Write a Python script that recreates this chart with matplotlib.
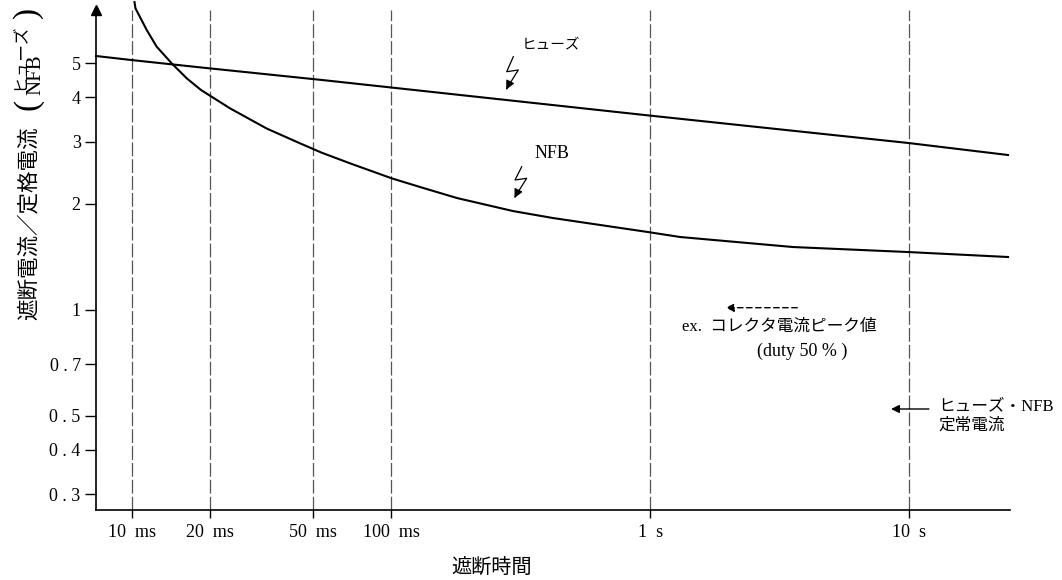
import matplotlib
matplotlib.use("Agg")
import matplotlib.pyplot as plt
from matplotlib.ticker import FixedLocator, NullLocator

plt.rcParams['font.family'] = ['Liberation Serif', 'Noto Sans CJK JP']

# ---- data (time in seconds, ratio = breaking current / rated current) ----
fuse_time = [0.007243, 0.009885, 0.018753, 0.054034, 0.10161, 0.99026, 9.912, 24.12]
fuse_ratio = [5.245, 5.110, 4.860, 4.484, 4.264, 3.556, 2.972, 2.747]

nfb_time = [0.01020, 0.010289, 0.011365, 0.012423, 0.014197, 0.016222, 0.018423,
            0.023837, 0.033049, 0.044444, 0.053891, 0.069320, 0.10045, 0.12923,
            0.17952, 0.29542, 0.42165, 0.98150, 1.3047, 3.5640, 9.824, 24.12]
nfb_ratio = [7.46, 7.16, 6.22, 5.575, 5.00, 4.535, 4.201,
             3.727, 3.266, 2.965, 2.789, 2.602, 2.359, 2.229,
             2.074, 1.905, 1.820, 1.661, 1.608, 1.506, 1.458, 1.411]

x_ticks = [0.01, 0.02, 0.05, 0.1, 1.0, 10.0]
x_tick_labels = ["10  ms", "20  ms", "50  ms", "100  ms", "1  s", "10  s"]
y_ticks = [5, 4, 3, 2, 1, 0.7, 0.5, 0.4, 0.3]
y_tick_labels = ["5", "4", "3", "2", "1", "0 . 7", "0 . 5", "0 . 4", "0 . 3"]

fig = plt.figure(figsize=(10.62, 5.80), dpi=100)
ax = fig.add_axes([96/1062, 70/580, 914/1062, 500/580])
ax.set_xscale('log')
ax.set_yscale('log')
ax.set_xlim(0.007243, 24.55)
ax.set_ylim(0.2703, 7.083)

# dashed guide lines
for t in x_ticks:
    ax.axvline(t, color='#555555', lw=0.9, dashes=(11, 2.5), zorder=1)

ax.plot(fuse_time, fuse_ratio, color='black', lw=1.5, zorder=3, clip_on=False)
ax.plot(nfb_time, nfb_ratio, color='black', lw=1.5, zorder=3, clip_on=False)

# axes styling
for s in ['top', 'right']:
    ax.spines[s].set_visible(False)
for s in ['left', 'bottom']:
    ax.spines[s].set_linewidth(1.2)
ax.plot(0, 1.0, marker='^', color='black', ms=7, transform=ax.transAxes,
        clip_on=False, zorder=5)

ax.xaxis.set_major_locator(FixedLocator(x_ticks))
ax.xaxis.set_minor_locator(NullLocator())
ax.set_xticklabels(x_tick_labels)
ax.yaxis.set_major_locator(FixedLocator(y_ticks))
ax.yaxis.set_minor_locator(NullLocator())
ax.set_yticklabels(y_tick_labels)
ax.tick_params(axis='x', direction='out', length=6, width=1, pad=4, labelsize=13)
ax.tick_params(axis='y', direction='out', length=8, width=1, pad=3, labelsize=13)

# axis labels
fig.text(492/1062, 1 - 568/580, "遮断時間", ha='center', va='center',
         fontsize=14.5, family=['Noto Sans CJK JP'])
fig.text(29/1062, 1 - 223/580, "遮断電流／定格電流", rotation=90, ha='center',
         va='center', fontsize=15.5, family=['Noto Sans CJK JP'])
fig.text(19/1062, 1 - 57/580, "ヒューズ", rotation=90, ha='center', va='center',
         fontsize=12, family=['Noto Sans CJK JP'])
fig.text(36/1062, 1 - 75/580, "NFB", rotation=90, ha='center', va='center',
         fontsize=15)
fig.text(28/1062, 1 - 104/580, "(", rotation=90, ha='center', va='center',
         fontsize=24)
fig.text(28/1062, 1 - 12/580, ")", rotation=90, ha='center', va='center',
         fontsize=24)

def fx(px):
    return (px - 96) / 914

def fy(py):
    return (510 - py) / 500

# curve labels with lightning arrows
ax.text(fx(551), fy(45), "ヒューズ", transform=ax.transAxes, ha='center',
        va='center', fontsize=10.5, family=['Noto Sans CJK JP'])
ax.plot([fx(513.3), fx(506.7), fx(518.3), fx(507)],
        [fy(56.7), fy(71.7), fy(70), fy(88)], color='black', lw=0.9,
        transform=ax.transAxes)
ax.annotate('', xy=(fx(505), fy(92)), xytext=(fx(508), fy(86)),
            xycoords='axes fraction', textcoords='axes fraction',
            arrowprops=dict(arrowstyle='-|>', color='black', lw=0.9,
                            mutation_scale=13))

ax.text(fx(551.7), fy(153), "NFB", transform=ax.transAxes, ha='center',
        va='center', fontsize=13)
ax.plot([fx(521.7), fx(515), fx(526.7), fx(515.5)],
        [fy(166.7), fy(180), fy(178.3), fy(196)], color='black', lw=0.9,
        transform=ax.transAxes)
ax.annotate('', xy=(fx(513.3), fy(200.5)), xytext=(fx(516.5), fy(194)),
            xycoords='axes fraction', textcoords='axes fraction',
            arrowprops=dict(arrowstyle='-|>', color='black', lw=0.9,
                            mutation_scale=13))

# side notes
ax.text(fx(681.7), fy(326.7), "ex.  コレクタ電流ピーク値", transform=ax.transAxes,
        ha='left', va='center', fontsize=12)
ax.text(fx(756.7), fy(351.7), "(duty 50 % )", transform=ax.transAxes,
        ha='left', va='center', fontsize=13)
ax.annotate('', xy=(fx(723), fy(307.7)), xytext=(fx(800), fy(307.7)),
            xycoords='axes fraction', textcoords='axes fraction',
            arrowprops=dict(arrowstyle='-|>', color='black', lw=1.0,
                            linestyle=(0, (4, 2.5)), mutation_scale=12))
ax.text(fx(938), fy(406.7), "ヒューズ・NFB", transform=ax.transAxes,
        ha='left', va='center', fontsize=12, clip_on=False)
ax.text(fx(938), fy(426), "定常電流", transform=ax.transAxes,
        ha='left', va='center', fontsize=12, clip_on=False)
ax.annotate('', xy=(fx(888.3), fy(409)), xytext=(fx(931.7), fy(409)),
            xycoords='axes fraction', textcoords='axes fraction',
            arrowprops=dict(arrowstyle='-|>', color='black', lw=1.0,
                            mutation_scale=12))

fig.savefig("out.png", dpi=100)
